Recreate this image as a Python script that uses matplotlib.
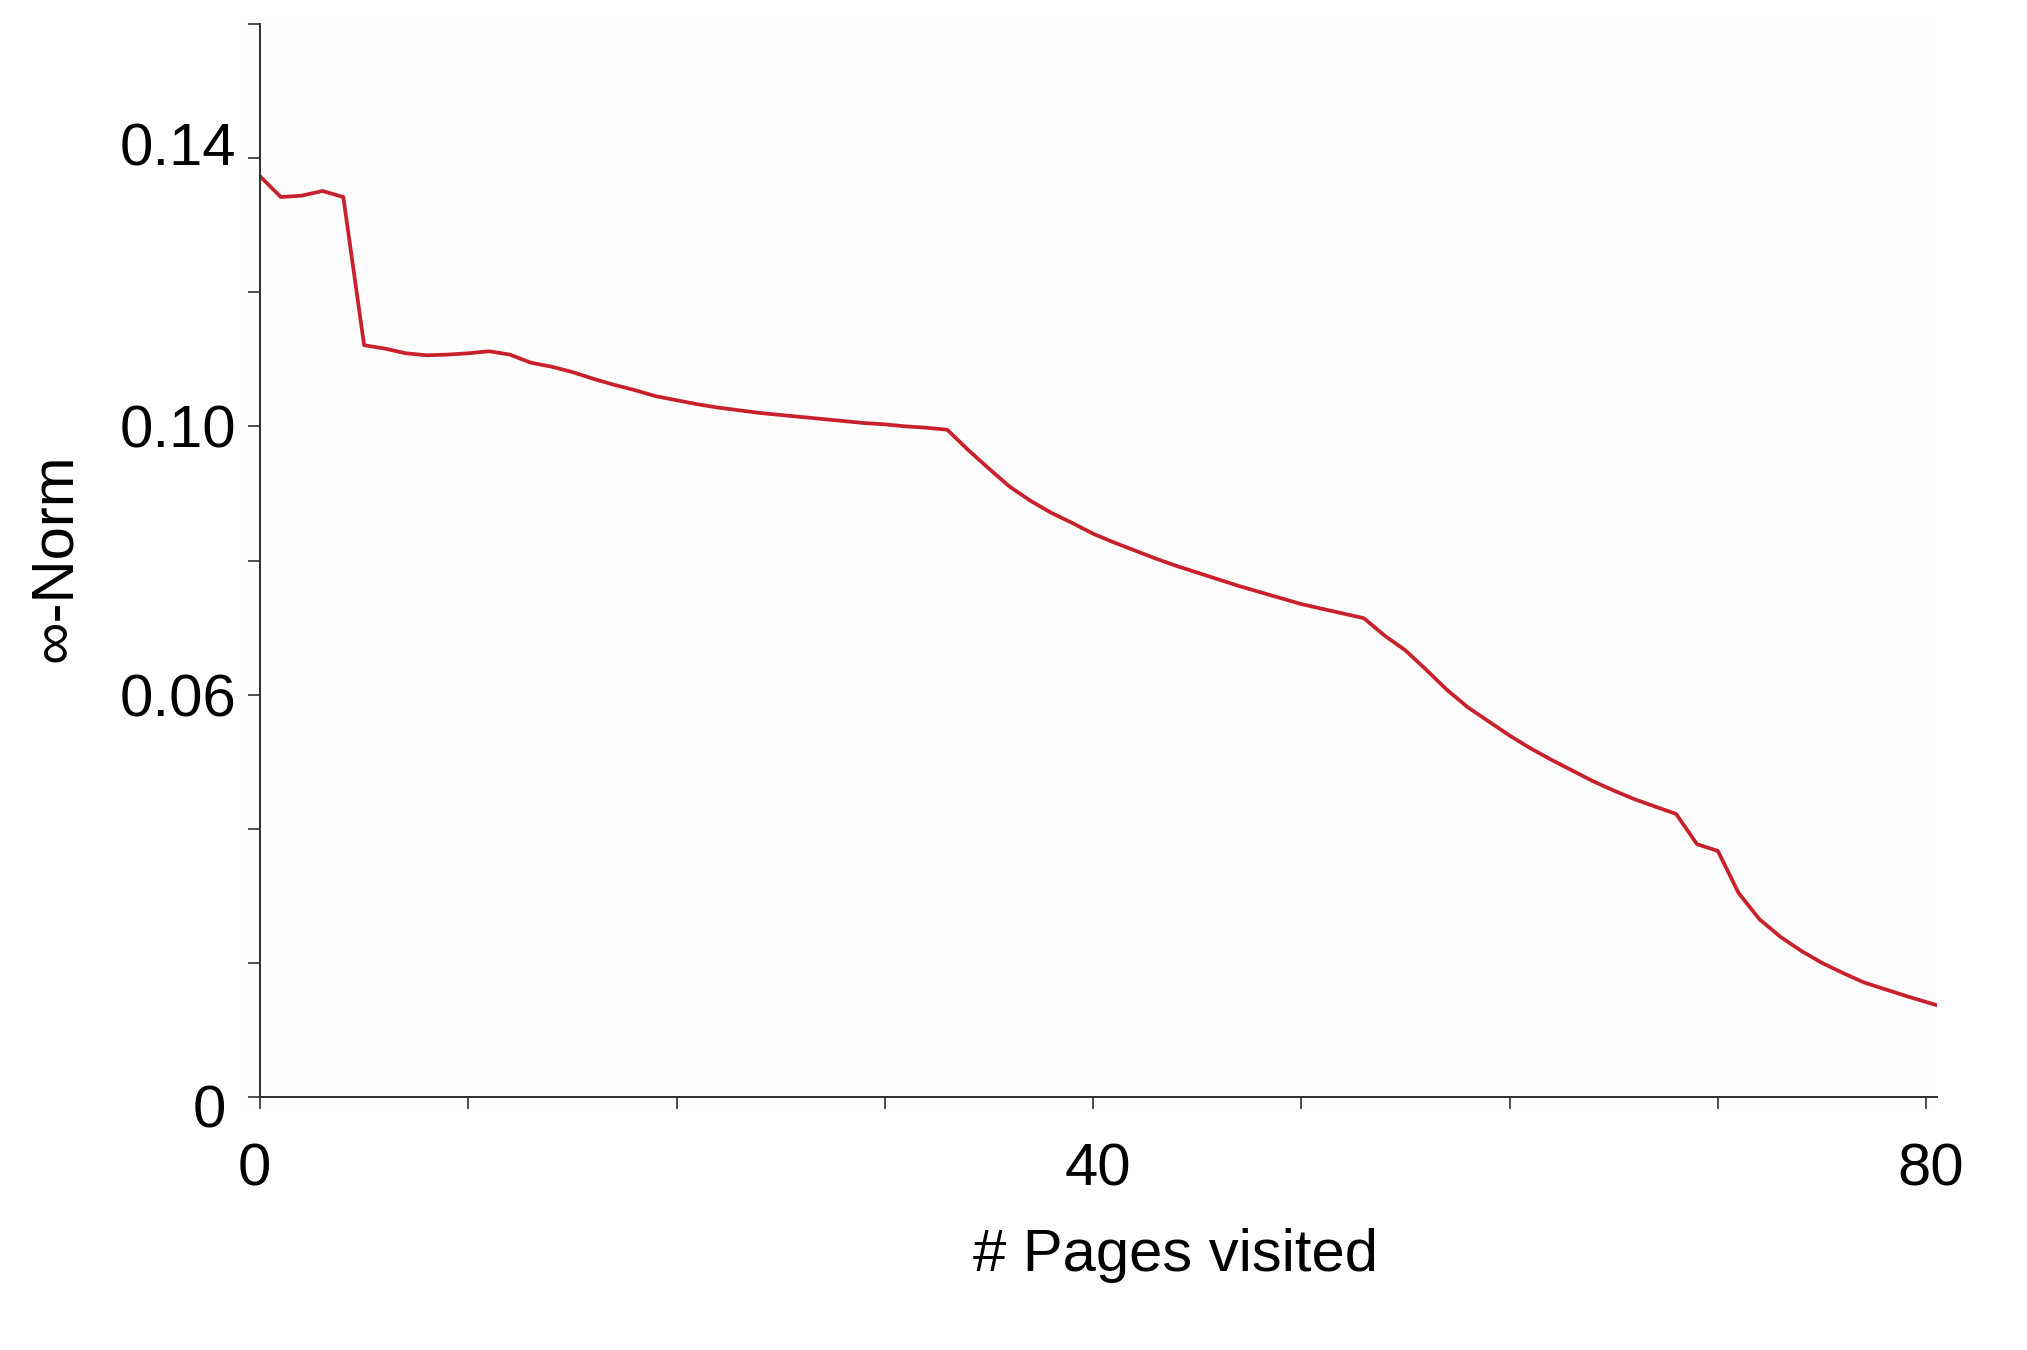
"""Infinity-norm vs number of pages visited."""
import matplotlib
matplotlib.use("Agg")
import matplotlib.pyplot as plt
import matplotlib.transforms as mtransforms
from matplotlib.patches import Rectangle

plt.rcParams["font.family"] = ["Liberation Sans", "DejaVu Sans"]

# ── data ──────────────────────────────────────────────────────────
pages = [0, 1, 2, 3, 4, 5, 6, 7, 8, 9,
         10, 11, 12, 13, 14, 15, 16, 17, 18, 19,
         20, 21, 22, 23, 24, 25, 26, 27, 28, 29,
         30, 31, 32, 33, 34, 35, 36, 37, 38, 39,
         40, 41, 42, 43, 44, 45, 46, 47, 48, 49,
         50, 51, 52, 53, 54, 55, 56, 57, 58, 59,
         60, 61, 62, 63, 64, 65, 66, 67, 68, 69,
         70, 71, 72, 73, 74, 75, 76, 77, 78, 79, 80.5]
inf_norm = [0.1373, 0.1342, 0.1344, 0.1351, 0.1342, 0.1121, 0.1116, 0.1109, 0.1106, 0.1107,
            0.1109, 0.1112, 0.1107, 0.1095, 0.1089, 0.1081, 0.1071, 0.1062, 0.1054, 0.1045,
            0.1039, 0.1033, 0.1028, 0.1024, 0.1020, 0.1017, 0.1014, 0.1011, 0.1008, 0.1005,
            0.1003, 0.1000, 0.0998, 0.0995, 0.0965, 0.0937, 0.0910, 0.0889, 0.0871, 0.0856,
            0.0840, 0.0827, 0.0815, 0.0803, 0.0792, 0.0782, 0.0772, 0.0762, 0.0753, 0.0744,
            0.0735, 0.0728, 0.0721, 0.0714, 0.0688, 0.0666, 0.0637, 0.0607, 0.0581, 0.0560,
            0.0539, 0.0520, 0.0503, 0.0487, 0.0471, 0.0457, 0.0444, 0.0433, 0.0422, 0.0377,
            0.0367, 0.0304, 0.0265, 0.0239, 0.0218, 0.0200, 0.0185, 0.0171, 0.0161, 0.0151, 0.0137]

x_ticks = [0, 10, 20, 30, 40, 50, 60, 70, 80]
x_labels = ["0", "", "", "", "40", "", "", "", "80"]
y_ticks = [0, 0.02, 0.04, 0.06, 0.08, 0.10, 0.12, 0.14, 0.16]
y_labels = ["0", "", "", "0.06", "", "0.10", "", "0.14", ""]

# ── figure ─────────────────────────────────────────────────────────
W, H = 2027, 1350
fig = plt.figure(figsize=(W / 100, H / 100), dpi=100)
fig.patch.set_facecolor("white")

# very faint panel behind the plot area (incl. tick zone)
fig.add_artist(Rectangle((240 / W, 1 - 1113 / H), (1937 - 240) / W, (1113 - 22) / H,
                         transform=fig.transFigure, facecolor="#fdfdfd",
                         edgecolor="none", zorder=0))

ax = fig.add_axes([260 / W, 1 - 1097 / H, (1936.5 - 260) / W, (1097 - 24) / H])
ax.set_facecolor("none")

ax.plot(pages, inf_norm, color="#c9212b", linewidth=2.7, solid_joinstyle="round")

ax.set_xlim(0, 80.5)
ax.set_ylim(0, 0.16)

for side in ["top", "right"]:
    ax.spines[side].set_visible(False)
for side in ["left", "bottom"]:
    ax.spines[side].set_color("#2e2e2e")
    ax.spines[side].set_linewidth(1.4)

ax.set_xticks(x_ticks)
ax.set_xticklabels(x_labels)
ax.set_yticks(y_ticks)
ax.set_yticklabels(y_labels)
ax.tick_params(axis="both", direction="out", length=8.6, width=1.2,
               color="#2e2e2e", labelsize=43, labelcolor="black")
ax.tick_params(axis="x", pad=24)
ax.tick_params(axis="y", pad=8.6)

# small per-label nudges seen in the reference
ylabs = ax.get_yticklabels()
ylabs[7].set_transform(ylabs[7].get_transform()
                       + mtransforms.ScaledTranslation(0, 14 / 100, fig.dpi_scale_trans))
ylabs[0].set_transform(ylabs[0].get_transform()
                       + mtransforms.ScaledTranslation(-10 / 100, -9 / 100, fig.dpi_scale_trans))
xlabs = ax.get_xticklabels()
xlabs[0].set_transform(xlabs[0].get_transform()
                       + mtransforms.ScaledTranslation(-6 / 100, 0, fig.dpi_scale_trans))
for i in (4, 8):
    xlabs[i].set_transform(xlabs[i].get_transform()
                           + mtransforms.ScaledTranslation(5 / 100, 0, fig.dpi_scale_trans))

# axis titles
fig.text(1175.5 / W, 1 - 1271 / H, "# Pages visited", fontsize=43,
         ha="center", va="baseline", rotation_mode="anchor")
fig.text(71 / W, 1 - 558 / H, "∞-Norm", fontsize=43, rotation=90,
         ha="center", va="baseline", rotation_mode="anchor")

fig.savefig("out.png", dpi=100)
